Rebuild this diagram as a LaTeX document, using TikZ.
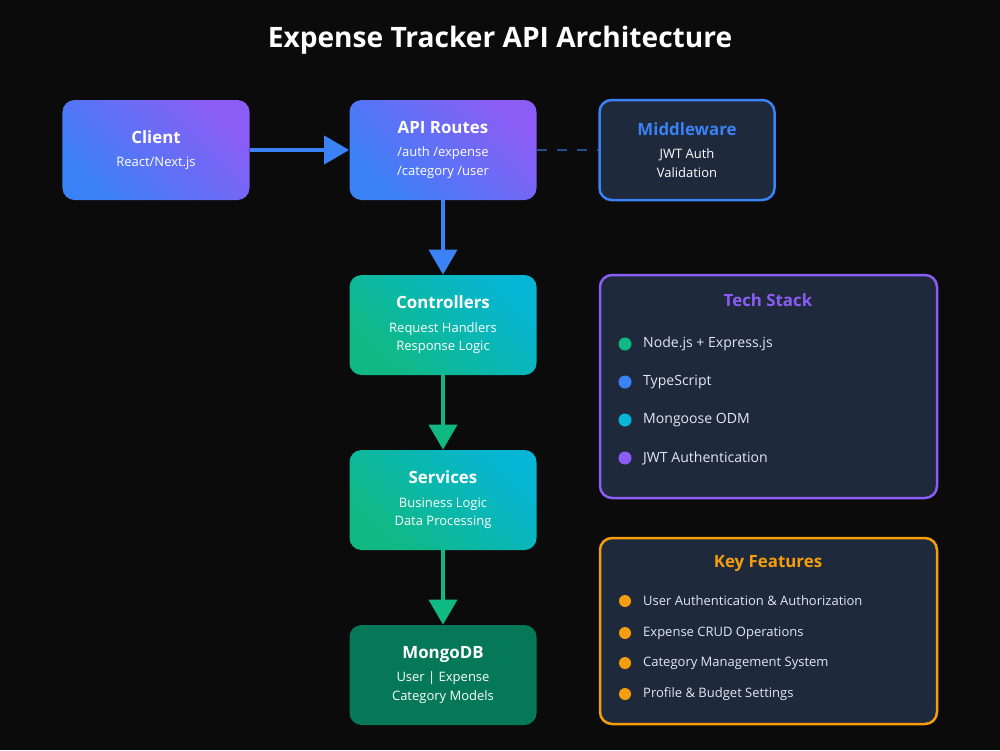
\documentclass[tikz,border=0pt]{standalone}
\usepackage{fontspec}
\setmainfont{Open Sans}
\usetikzlibrary{positioning,arrows.meta}
\definecolor{bgc}{HTML}{0B0B0B}
\definecolor{panel}{HTML}{1E293B}
\definecolor{blu}{HTML}{3B82F6}
\definecolor{pur}{HTML}{8B5CF6}
\definecolor{grn}{HTML}{10B981}
\definecolor{cyn}{HTML}{06B6D4}
\definecolor{mng}{HTML}{047857}
\definecolor{amb}{HTML}{F59E0B}
\definecolor{sub}{HTML}{E2E8F0}
\newcommand{\boxttl}[1]{{\bfseries\fontsize{9.6}{12}\selectfont #1}\\[1mm]}
\tikzset{
  box/.style={rounded corners=2.4mm, minimum width=37.4mm, minimum height=20mm, align=center, text=white, font=\fontsize{7.4}{10.5}\selectfont},
  bluebox/.style={box, left color=blu, right color=pur, shading angle=135},
  greenbox/.style={box, left color=grn, right color=cyn, shading angle=135},
  panelbox/.style={rounded corners=2.4mm, fill=panel, draw=#1, line width=0.5mm},
  ttl/.style={font=\bfseries\fontsize{9.6}{12}\selectfont},
  item/.style={anchor=west, text=sub, font=\fontsize{8}{10}\selectfont},
  dot/.style={circle, fill=#1, inner sep=0pt, minimum size=2.6mm},
  flow/.style={line width=0.8mm, -{Triangle[length=5mm,width=5.6mm]}}
}
\begin{document}
\begin{tikzpicture}[x=0.2mm,y=-0.2mm]
\useasboundingbox[fill=bgc] (0,0) rectangle (1000,750);
\node[text=white, font=\bfseries\fontsize{16}{20}\selectfont] (title) at (500,40) {Expense Tracker API Architecture};

% main flow
\node[bluebox] (client) at (156,150) {\boxttl{Client} React/Next.js};
\node[bluebox] (routes) at (443,150) {\boxttl{API Routes} /auth /expense\\ /category /user};
\node[panelbox=blu, box, minimum width=35mm] (mw) at (687,150) {\boxttl{\color{blu}Middleware} JWT Auth\\ Validation};
\node[greenbox] (ctrl) at (443,325) {\boxttl{Controllers} Request Handlers\\ Response Logic};
\node[greenbox] (svc) at (443,500) {\boxttl{Services} Business Logic\\ Data Processing};
\node[box, fill=mng] (db) at (443,675) {\boxttl{MongoDB} User | Expense\\ Category Models};

\draw[flow, blu] (client) -- (routes);
\draw[flow, blu] (routes) -- (ctrl);
\draw[flow, grn] (ctrl) -- (svc);
\draw[flow, grn] (svc) -- (db);
\draw[blu!60!black, line width=0.5mm, dash pattern=on 2mm off 2mm] (routes) -- (mw);

% tech stack
\draw[panelbox=pur] (600,275) rectangle (937,498);
\node[ttl, text=pur] (tech) at (768,300) {Tech Stack};
\foreach \c/\t [count=\i] in {grn/Node.js + Express.js, blu/TypeScript, cyn/Mongoose ODM, pur/JWT Authentication}{
  \node[dot=\c] (td\i) at (625,306+38*\i) {};
  \node[item] (tt\i) at (637,306+38*\i) {\t};
}

% key features
\draw[panelbox=amb] (600,538) rectangle (937,724);
\node[ttl, text=amb] (feat) at (768,563) {Key Features};
\foreach \t/\y [count=\i] in {User Authentication \& Authorization/601, Expense CRUD Operations/633, Category Management System/663, Profile \& Budget Settings/694}{
  \node[dot=amb, minimum size=2.4mm] (fd\i) at (625,\y) {};
  \node[item, font=\fontsize{7.4}{10}\selectfont] (ft\i) at (637,\y) {\t};
}
\end{tikzpicture}
\end{document}
